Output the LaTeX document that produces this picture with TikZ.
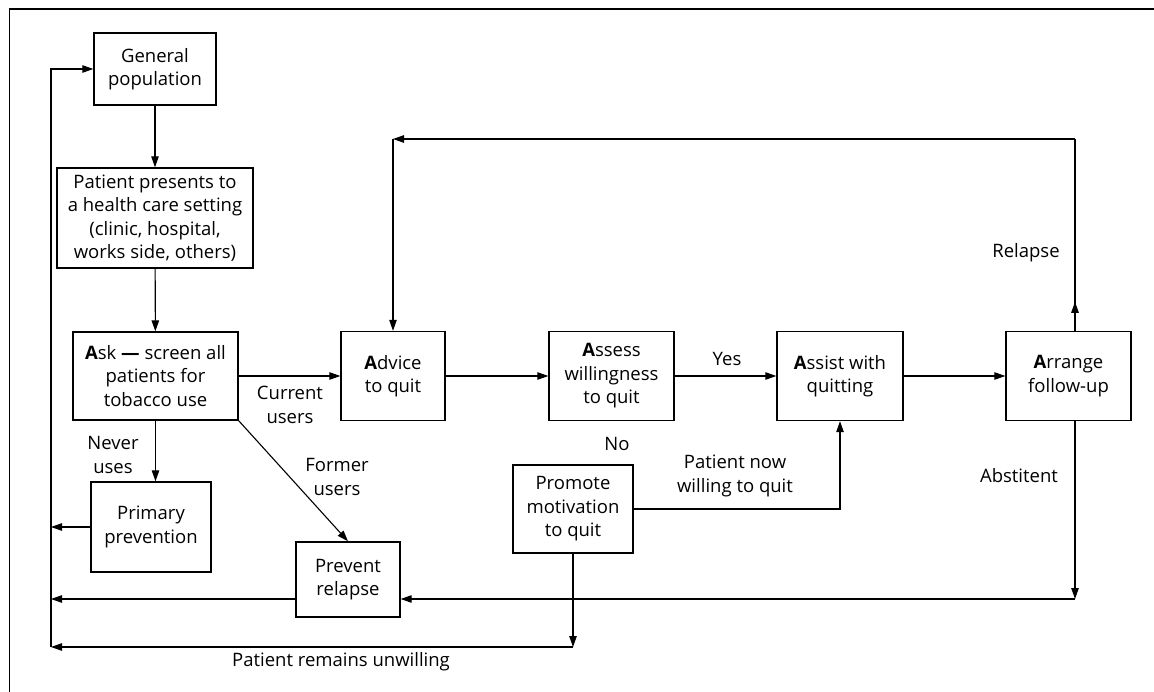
\documentclass[tikz,border=0pt]{standalone}
\usepackage{fontspec}
\setmainfont{Open Sans}
\usetikzlibrary{arrows.meta}

\begin{document}
\begin{tikzpicture}[x=1pt,y=-1pt,
    >={Triangle[length=11pt,width=7.5pt]},
    line width=1.1pt,
    font=\fontsize{18.5}{23.5}\selectfont,
    box/.style args={#1/#2}{draw,line width=1.4pt,align=center,inner sep=0pt,
        minimum width=#1pt,minimum height=#2pt}]
    \useasboundingbox (0,0) rectangle (1154,692);
    % frame
    \draw[line width=1.6pt] (9.5,692) -- (9.5,9) -- (1154,9);

    \draw (155,69) node[box=122/72] (gen) {General\\population};
    \draw (155,218) node[box=196/100] (pres) {Patient presents to\\a health care setting\\(clinic, hospital,\\works side, others)};
    \draw (155.5,376) node[box=165/88] (ask) {\textbf{A}sk \textbf{---} screen all\\patients for\\tobacco use};
    \draw (393,376) node[box=104/89] (adv) {\textbf{A}dvice\\to quit};
    \draw (611.5,376) node[box=125/89] (ass) {\textbf{A}ssess\\willingness\\to quit};
    \draw (840,376) node[box=126/89] (ast) {\textbf{A}ssist with\\quitting};
    \draw (1068.5,376) node[box=125/89] (arr) {\textbf{A}rrange\\follow-up};
    \draw (151,527) node[box=120/90] (prim) {Primary\\prevention};
    \draw (348,579.5) node[box=104/75] (prev) {Prevent\\relapse};
    \draw (573,509) node[box=120/88] (prom) {Promote\\motivation\\to quit};

    % labels
    \draw (290,405) node[align=center] (cur) {Current\\users};
    \draw (727,359) node (yes) {Yes};
    \draw (617,444) node (no) {No};
    \draw (113,455) node[align=center] (nev) {Never\\uses};
    \draw (337,477) node[align=center] (form) {Former\\users};
    \draw (735,476) node[align=center] (will) {Patient now\\willing to quit};
    \draw (1019,476) node (abst) {Abstitent};
    \draw (1026,253) node (rel) {Relapse};
    \draw (341,662) node (unw) {Patient remains unwilling};

    \coordinate (top) at (1075,139);
    \coordinate (abs) at (1075,599);
    \coordinate (back) at (51,647);

    \draw[->] (gen) -- (pres);
    \draw[->] (pres) -- (ask);
    \foreach \a/\b in {ask/adv, adv/ass, ass/ast, ast/arr}
        \draw[->] (\a) -- (\b);
    \draw[->] (ask.south) -- (ask.south |- prim.north);
    \draw[->] (ask.south east) -- (prev.north);

    % relapse loop
    \draw[->] (arr.north -| top) -- ++(0,-29);
    \draw (arr.north -| top) -- (top);
    \draw[->] (top) -- (top -| adv);
    \draw[->] (top -| adv) -- (adv);

    % abstinent
    \draw[->] (arr.south -| abs) -- (abs);
    \draw[->] (abs) -- (prev.east |- abs);
    \draw[->] (prev.west |- abs) -- (abs -| back);
    \draw[->] (prim.west) -- (prim.west -| back);

    % unwilling / willing
    \draw[->] (prom.east) -| (ast.south);
    \draw[->] (prom.south) -- (prom.south |- back);
    \draw[->] (prom.south |- back) -- (back);
    \draw[->] (back) |- (gen.west);
\end{tikzpicture}
\end{document}
